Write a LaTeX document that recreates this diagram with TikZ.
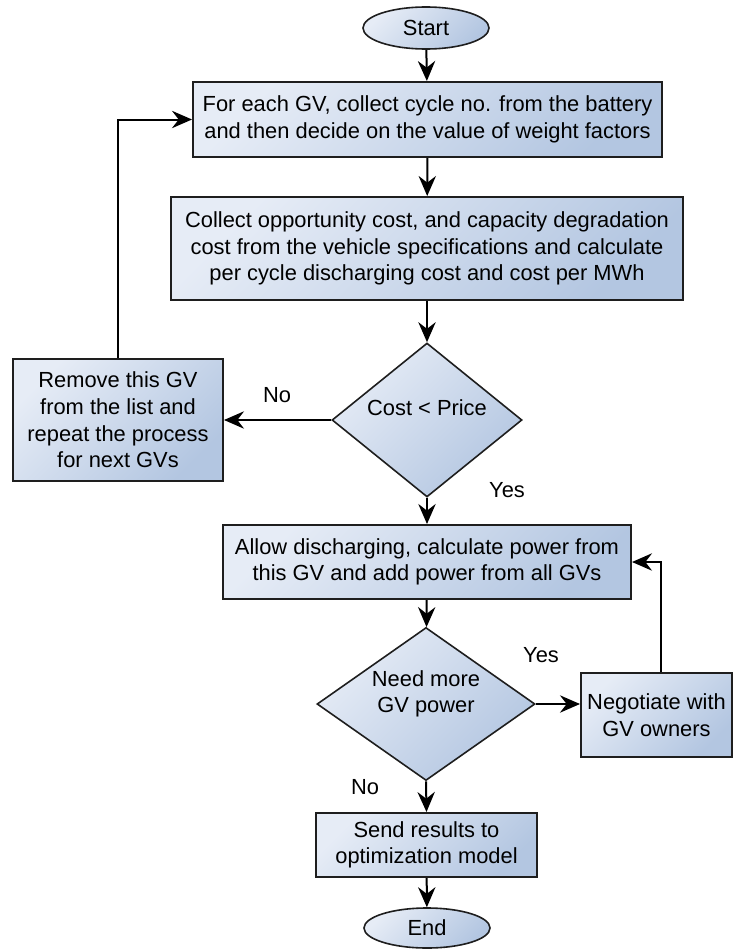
\documentclass[tikz,border=0pt]{standalone}
\usepackage{fontspec}
\setmainfont{Liberation Sans}
\usetikzlibrary{shapes.geometric,arrows.meta,calc}

\definecolor{fillA}{HTML}{E6ECF6}
\definecolor{fillB}{HTML}{B3C6E1}
\definecolor{edge}{HTML}{1E1E1E}

\tikzset{
  txt/.style={font=\fontsize{16.4}{20}\selectfont},
  shadedfill/.style={top color=fillA, bottom color=fillB, shading angle=45},
  procbox/.style={rectangle, draw=edge, line width=1.5pt, shadedfill,
    inner sep=0pt, align=center, txt},
  termbox/.style={ellipse, draw=edge, line width=1.2pt, shadedfill,
    inner sep=0pt, txt},
  decbox/.style={diamond, draw=edge, line width=1.2pt, shadedfill, inner sep=0pt},
  dectext/.style={align=center, inner sep=0pt, txt},
  lbl/.style={inner sep=0pt, txt},
  flow/.style={line width=1.5pt, -{Stealth[length=15pt, width=13pt, inset=5pt]}}
}

\begin{document}
\begin{tikzpicture}[x=0.75pt, y=-0.75pt]
\useasboundingbox (0,0) rectangle (734,949);

% terminals
\node[termbox, minimum width=94.5pt, minimum height=31.5pt] (start) at (426,28) {Start};
\node[termbox, minimum width=94.5pt, minimum height=30pt] (stop) at (427,928) {End};

% process boxes
\node[procbox, minimum width=351.75pt, minimum height=56.25pt] (collect) at (427.5,119.5)
  {For each GV, collect cycle no. from the battery\\and then decide on the value of weight factors};
\node[procbox, minimum width=384pt, minimum height=77.25pt] (cost) at (427,248.5)
  {Collect opportunity cost, and capacity degradation\\cost from the vehicle specifications and calculate\\per cycle discharging cost and cost per MWh};
\node[procbox, minimum width=157.5pt, minimum height=91.5pt] (remove) at (118,420)
  {Remove this GV\\from the list and\\repeat the process\\for next GVs};
\node[procbox, minimum width=306pt, minimum height=55.5pt] (allow) at (427,562)
  {Allow discharging, calculate power from\\this GV and add power from all GVs};
\node[procbox, minimum width=113.25pt, minimum height=63pt] (nego) at (656.5,715)
  {Negotiate with\\GV owners};
\node[procbox, minimum width=165.75pt, minimum height=48pt] (send) at (426.5,845)
  {Send results to\\optimization model};

% decisions
\node[decbox, minimum width=142.5pt, minimum height=115.5pt] (price) at (427,420) {};
\node[dectext] (pricetxt) at (427,408) {Cost < Price};
\node[decbox, minimum width=163.5pt, minimum height=114.75pt] (more) at (426,704) {};
\node[dectext] (moretxt) at (426,694) {Need more\\GV power};

% branch labels
\node[lbl] (no1) at (277,395) {No};
\node[lbl] (yes1) at (507,490) {Yes};
\node[lbl] (yes2) at (541,655) {Yes};
\node[lbl] (no2) at (365,787) {No};

% connectors
\draw[flow] (start) -- (collect);
\draw[flow] (collect) -- (cost);
\draw[flow] (cost) -- (price);
\draw[flow] (price.west) -- (remove.east);
\draw[flow] (remove.north) |- (collect.west);
\draw[flow] (price.south) -- (allow.north);
\draw[flow] (allow) -- (more);
\draw[flow] (more.east) -- (more.east -| nego.west);
\draw[flow] ([xshift=3.5pt]nego.north) |- (allow.east);
\draw[flow] (more.south) -- (send.north);
\draw[flow] (send) -- (stop);
\end{tikzpicture}
\end{document}
